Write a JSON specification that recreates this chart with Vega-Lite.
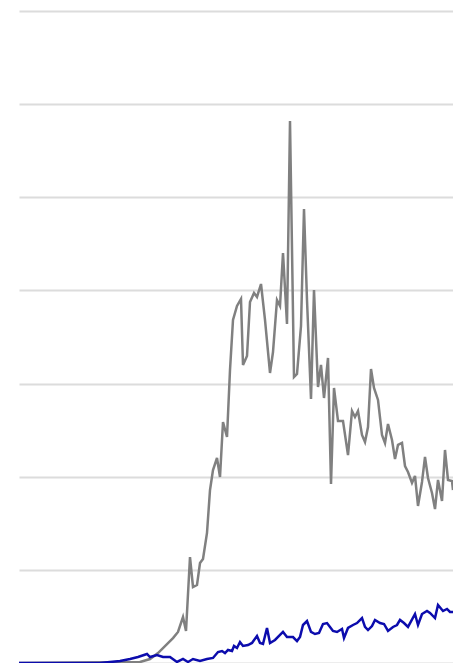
{
  "$schema": "https://vega.github.io/schema/vega-lite/v6.json",
  "width": 434,
  "height": 652,
  "autosize": {"type": "none"},
  "padding": {"left": 19, "top": 11, "right": 0, "bottom": 0},
  "background": "white",
  "config": {"view": {"stroke": null}},
  "datasets": {
    "gray": [
      {"x": 0, "y": 0}, {"x": 121, "y": 0.1}, {"x": 131, "y": 0.43}, {"x": 139, "y": 1.07},
      {"x": 154, "y": 2.68}, {"x": 159, "y": 3.33}, {"x": 164, "y": 4.94}, {"x": 167, "y": 3.44},
      {"x": 171, "y": 11.38}, {"x": 174, "y": 8.16}, {"x": 178, "y": 8.37}, {"x": 181, "y": 10.74},
      {"x": 184, "y": 11.17}, {"x": 188, "y": 13.96}, {"x": 191, "y": 18.57}, {"x": 194, "y": 20.72},
      {"x": 198, "y": 22.01}, {"x": 201, "y": 19.97}, {"x": 204, "y": 25.88}, {"x": 208, "y": 24.26},
      {"x": 211, "y": 31.46}, {"x": 214, "y": 36.83}, {"x": 218, "y": 38.33}, {"x": 222, "y": 39.08},
      {"x": 224, "y": 32.0}, {"x": 228, "y": 32.96}, {"x": 231, "y": 38.76}, {"x": 235, "y": 39.73},
      {"x": 238, "y": 39.3}, {"x": 242, "y": 40.69}, {"x": 246, "y": 36.83}, {"x": 251, "y": 31.14},
      {"x": 254, "y": 33.39}, {"x": 258, "y": 38.97}, {"x": 261, "y": 38.33}, {"x": 264, "y": 44.02},
      {"x": 268, "y": 36.4}, {"x": 271, "y": 58.19}, {"x": 275, "y": 30.71}, {"x": 278, "y": 31.03},
      {"x": 282, "y": 36.18}, {"x": 285, "y": 48.74}, {"x": 288, "y": 38.97}, {"x": 292, "y": 28.34},
      {"x": 295, "y": 40.05}, {"x": 299, "y": 29.63}, {"x": 302, "y": 32.0}, {"x": 305, "y": 28.45},
      {"x": 309, "y": 32.75}, {"x": 312, "y": 19.22}, {"x": 315, "y": 29.53}, {"x": 319, "y": 25.98},
      {"x": 324, "y": 25.98}, {"x": 329, "y": 22.33}, {"x": 333, "y": 27.06}, {"x": 336, "y": 26.41},
      {"x": 339, "y": 27.06}, {"x": 343, "y": 24.48}, {"x": 346, "y": 23.73}, {"x": 349, "y": 25.34},
      {"x": 352, "y": 31.57}, {"x": 355, "y": 29.53}, {"x": 359, "y": 28.24}, {"x": 363, "y": 24.48},
      {"x": 366, "y": 23.62}, {"x": 369, "y": 25.66}, {"x": 373, "y": 23.94}, {"x": 376, "y": 21.9},
      {"x": 379, "y": 23.41}, {"x": 383, "y": 23.62}, {"x": 386, "y": 21.15}, {"x": 389, "y": 20.51},
      {"x": 393, "y": 19.33}, {"x": 396, "y": 20.08}, {"x": 399, "y": 16.86}, {"x": 403, "y": 19.43},
      {"x": 406, "y": 22.12}, {"x": 409, "y": 19.86}, {"x": 413, "y": 18.25}, {"x": 416, "y": 16.53},
      {"x": 419, "y": 19.65}, {"x": 423, "y": 17.39}, {"x": 426, "y": 22.87}, {"x": 429, "y": 19.65},
      {"x": 433, "y": 19.54}, {"x": 434, "y": 18.57}
    ],
    "blue": [
      {"x": 0, "y": 0}, {"x": 81, "y": 0}, {"x": 101, "y": 0.21}, {"x": 111, "y": 0.43},
      {"x": 119, "y": 0.64}, {"x": 128, "y": 0.97}, {"x": 131, "y": 0.64}, {"x": 138, "y": 0.86},
      {"x": 144, "y": 0.64}, {"x": 151, "y": 0.64}, {"x": 158, "y": 0.11}, {"x": 164, "y": 0.43},
      {"x": 169, "y": 0.11}, {"x": 174, "y": 0.43}, {"x": 181, "y": 0.21}, {"x": 188, "y": 0.43},
      {"x": 194, "y": 0.54}, {"x": 199, "y": 1.18}, {"x": 203, "y": 1.29}, {"x": 206, "y": 1.07},
      {"x": 209, "y": 1.4}, {"x": 213, "y": 1.29}, {"x": 215, "y": 1.83}, {"x": 218, "y": 1.61},
      {"x": 221, "y": 2.25}, {"x": 224, "y": 1.83}, {"x": 229, "y": 1.93}, {"x": 233, "y": 2.15},
      {"x": 238, "y": 2.9}, {"x": 241, "y": 2.15}, {"x": 244, "y": 2.04}, {"x": 248, "y": 3.76},
      {"x": 251, "y": 2.15}, {"x": 256, "y": 2.47}, {"x": 261, "y": 3.01}, {"x": 264, "y": 3.33},
      {"x": 268, "y": 2.79}, {"x": 271, "y": 2.79}, {"x": 274, "y": 2.79}, {"x": 278, "y": 2.36},
      {"x": 281, "y": 2.79}, {"x": 284, "y": 4.08}, {"x": 288, "y": 4.51}, {"x": 292, "y": 3.33},
      {"x": 296, "y": 3.11}, {"x": 300, "y": 3.22}, {"x": 304, "y": 4.19}, {"x": 308, "y": 4.29},
      {"x": 311, "y": 3.87}, {"x": 314, "y": 3.44}, {"x": 318, "y": 3.33}, {"x": 323, "y": 3.65},
      {"x": 325, "y": 2.68}, {"x": 329, "y": 3.76}, {"x": 334, "y": 4.08}, {"x": 338, "y": 4.29},
      {"x": 343, "y": 4.83}, {"x": 346, "y": 3.87}, {"x": 349, "y": 3.54}, {"x": 353, "y": 3.97},
      {"x": 356, "y": 4.62}, {"x": 361, "y": 4.29}, {"x": 365, "y": 4.19}, {"x": 369, "y": 3.44},
      {"x": 374, "y": 3.87}, {"x": 378, "y": 4.08}, {"x": 381, "y": 4.62}, {"x": 385, "y": 4.29},
      {"x": 389, "y": 3.87}, {"x": 396, "y": 5.26}, {"x": 399, "y": 4.08}, {"x": 403, "y": 5.26},
      {"x": 408, "y": 5.58}, {"x": 411, "y": 5.37}, {"x": 416, "y": 4.83}, {"x": 419, "y": 6.23},
      {"x": 424, "y": 5.58}, {"x": 428, "y": 5.8}, {"x": 431, "y": 5.48}, {"x": 434, "y": 5.48}
    ]
  },
  "encoding": {
    "x": {"field": "x", "type": "quantitative", "scale": {"domain": [0, 434], "nice": false, "zero": false}, "axis": null},
    "y": {"field": "y", "type": "quantitative", "scale": {"domain": [0, 70], "nice": false},
      "axis": {"values": [0, 10, 20, 30, 40, 50, 60, 70], "labels": false, "ticks": false, "domain": false, "title": null, "grid": true, "gridColor": "#dcdcdc", "gridWidth": 2}}
  },
  "layer": [
    {"data": {"name": "gray"}, "mark": {"type": "line", "color": "#808080", "strokeWidth": 2.5, "clip": false}},
    {"data": {"name": "blue"}, "mark": {"type": "line", "color": "#0c0cad", "strokeWidth": 2.5, "clip": false}}
  ]
}
